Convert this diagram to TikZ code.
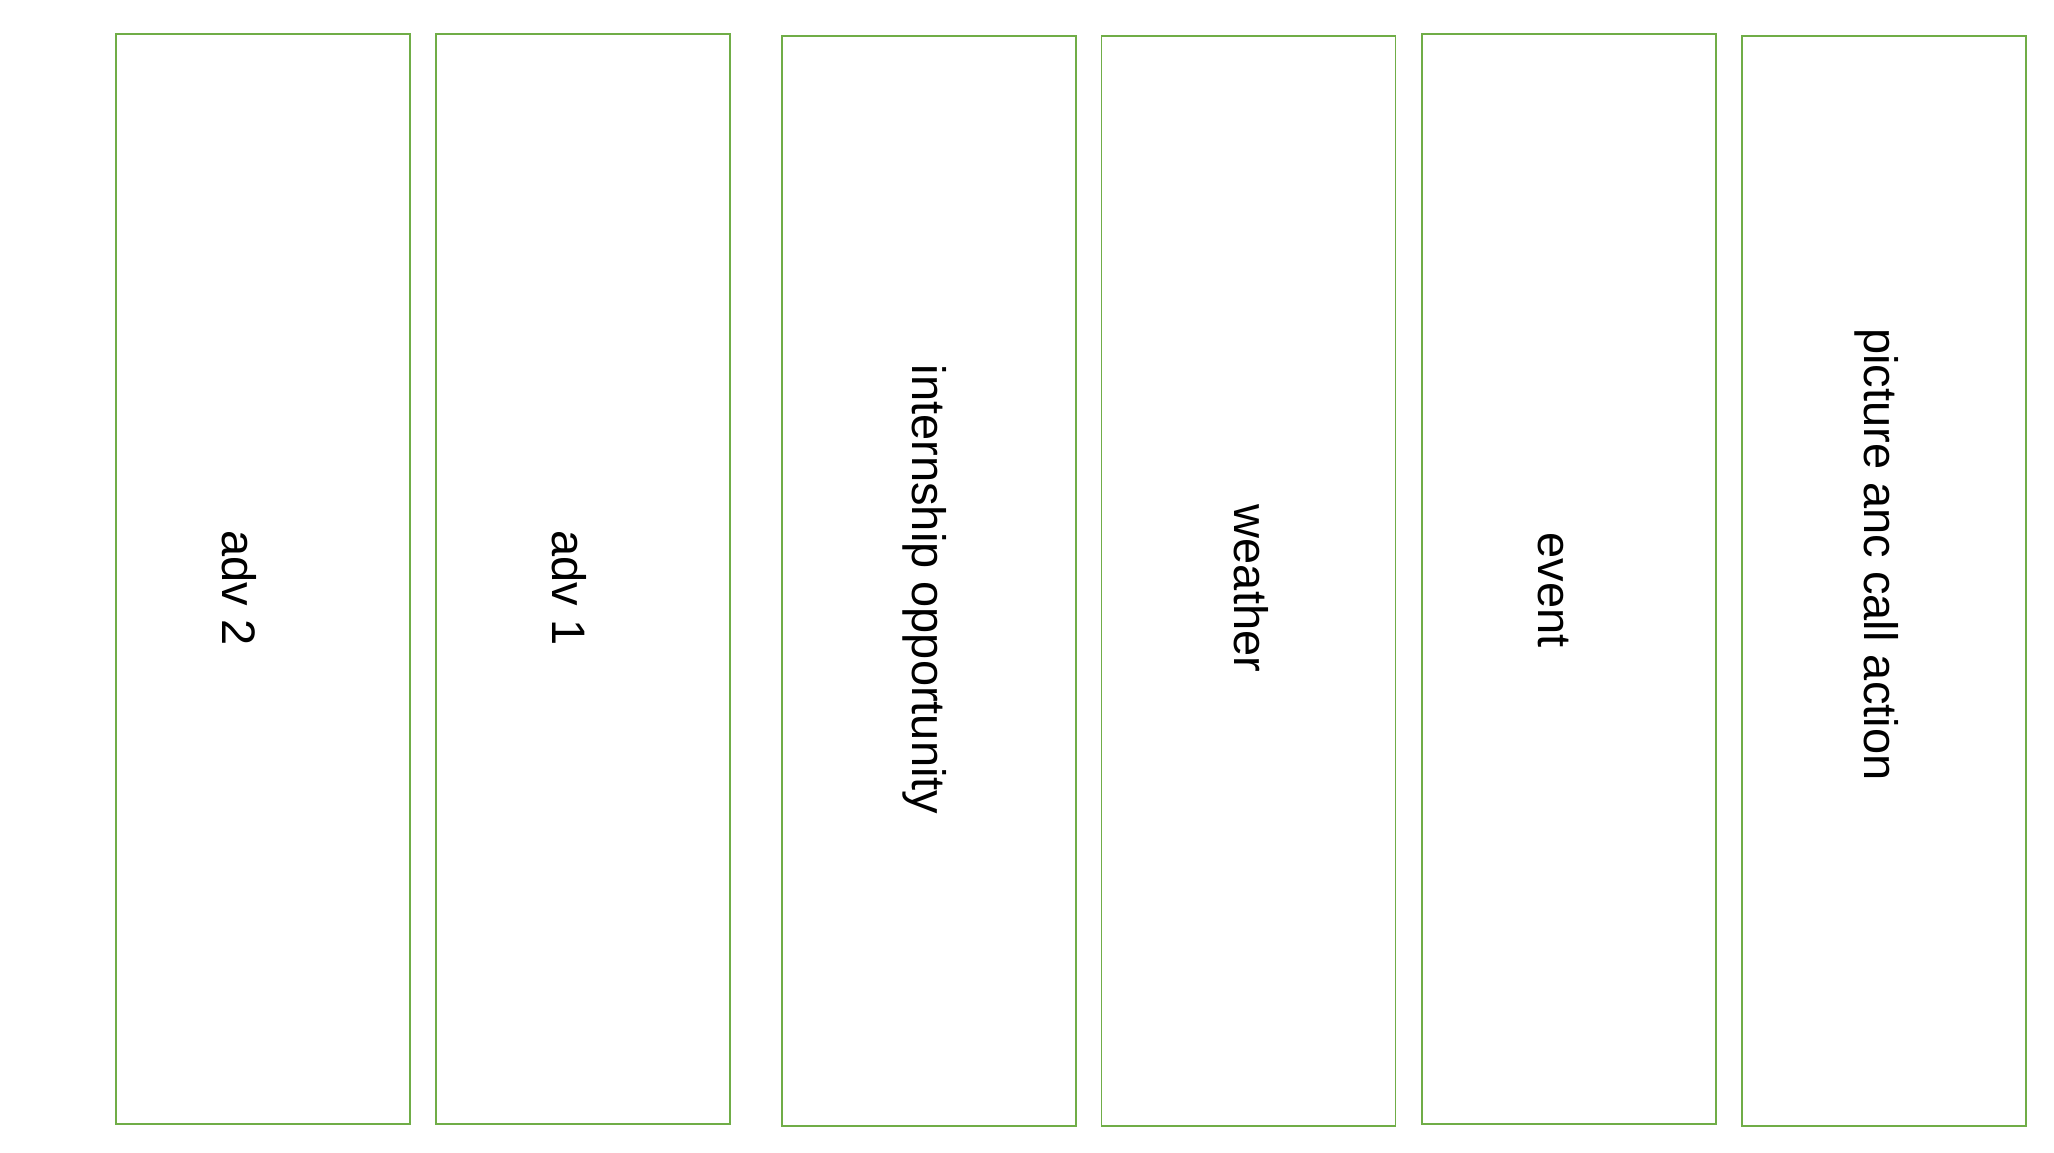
\documentclass[tikz,border=0pt]{standalone}
\usepackage{fontspec}
\setmainfont{Liberation Sans}
\definecolor{boxgreen}{HTML}{70AD47}
\begin{document}
\begin{tikzpicture}[x=0.5pt,y=-0.5pt,
  colbox/.style={draw=boxgreen, line width=0.9pt, fill=none, inner sep=0pt, minimum width=147pt, minimum height=545pt},
  lbl/.style={inner sep=0pt, rotate=-90, anchor=base west, font=\fontsize{23.5pt}{28pt}\selectfont, text=black}]
\useasboundingbox (0,0) rectangle (2054,1152);
\fill[white] (0,0) rectangle (2054,1152);
\node[colbox] (b1) at (263,578.7) {};
\node[colbox] (b2) at (583,578.7) {};
\node[colbox] (b3) at (929,580.7) {};
\node[colbox] (b4) at (1248.5,580.7) {};
\node[colbox] (b5) at (1569,578.7) {};
\node[colbox, minimum width=142pt] (b6) at (1884,580.7) {};
\node[lbl] (t1) at (222.5,530) {adv 2};
\node[lbl] (t2) at (552.5,530) {adv 1};
\node[lbl] (t3) at (912.5,364.5) {internship opportunity};
\node[lbl] (t4) at (1234.5,504.5) {weather};
\node[lbl] (t5) at (1538.5,532) {event};
\node[lbl] (t6) at (1864.5,328) {picture anc call action};
\end{tikzpicture}
\end{document}
